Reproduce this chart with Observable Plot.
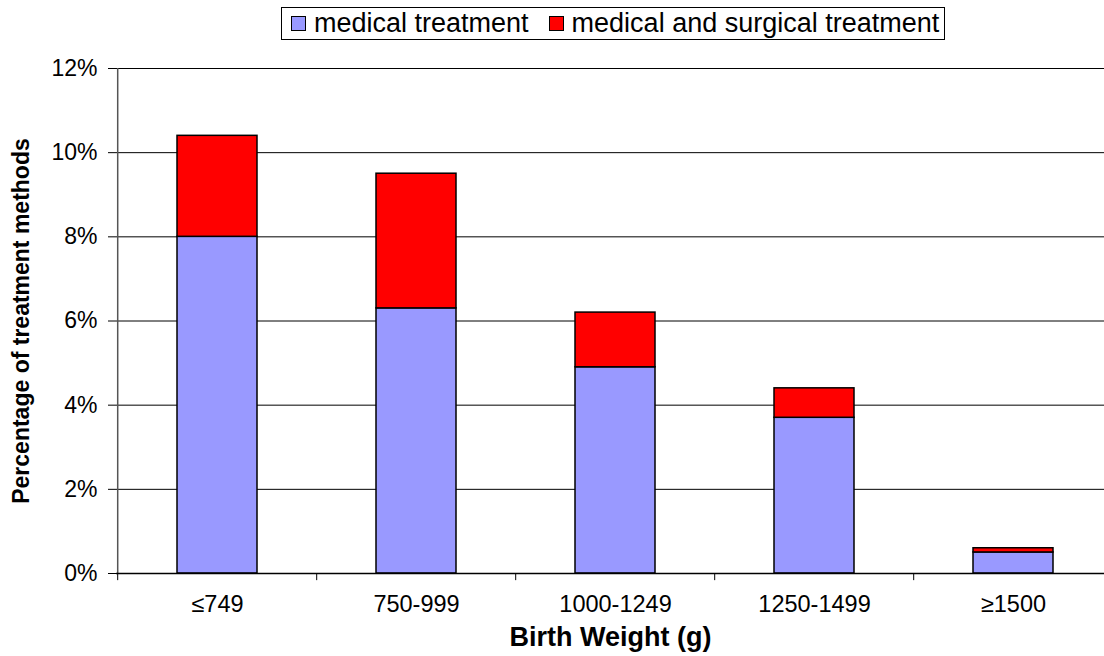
<!DOCTYPE html>
<html>
<head>
<meta charset="utf-8">
<script src="https://cdn.jsdelivr.net/npm/d3@7"></script>
<script src="https://cdn.jsdelivr.net/npm/@observablehq/plot@0.6"></script>
<style>
  html, body { margin: 0; padding: 0; background: #fff; }
  body { width: 1104px; height: 656px; overflow: hidden; font-family: "Liberation Sans", Arial, sans-serif; }
  #legend { position: relative; height: 48px; }
  #legend .box { position: absolute; left: 281px; top: 7px; width: 662px; height: 31px; border: 1px solid #000; display: flex; align-items: center; font-size: 27px; color: #000; white-space: nowrap; }
  #legend .sw { display: inline-block; width: 13px; height: 13px; border: 1px solid #000; margin: 0 8px 0 0; }
  #legend .item { display: flex; align-items: center; }
</style>
</head>
<body>
<div id="legend"></div>
<div id="chart"></div>
<script>
const categories = ["≤749", "750-999", "1000-1249", "1250-1499", "≥1500"];
const seriesNames = ["medical treatment", "medical and surgical treatment"];
const seriesColors = ["#9999FF", "#FF0000"];
const medical = [8.0, 6.3, 4.9, 3.7, 0.5];
const medicalSurgical = [2.4, 3.2, 1.3, 0.7, 0.1];
const yTicks = [0, 2, 4, 6, 8, 10, 12];
const yTitle = "Percentage of treatment methods";
const xTitle = "Birth Weight (g)";

const rows = [];
categories.forEach((c, i) => {
  rows.push({cat: c, series: seriesNames[0], value: medical[i]});
  rows.push({cat: c, series: seriesNames[1], value: medicalSurgical[i]});
});

// legend
const box = document.createElement("div");
box.className = "box";
seriesNames.forEach((s, i) => {
  const item = document.createElement("span");
  item.className = "item";
  item.style.marginLeft = i === 0 ? "9px" : "20px";
  const sw = document.createElement("span");
  sw.className = "sw";
  sw.style.background = seriesColors[i];
  item.appendChild(sw);
  item.appendChild(document.createTextNode(s));
  box.appendChild(item);
});
document.getElementById("legend").appendChild(box);

const xLeft = 116, xRight = 1114;
const step = (xRight - xLeft) / categories.length;
const font = "Liberation Sans, Arial, sans-serif";

const chart = Plot.plot({
  width: 1104,
  height: 608,
  marginTop: 20,
  marginBottom: 83,
  marginLeft: xLeft,
  marginRight: 0,
  style: {fontFamily: font, background: "#fff", color: "#000", overflow: "visible"},
  x: {domain: categories, range: [xLeft, xRight], paddingInner: 0.6, paddingOuter: 0.3, label: null},
  y: {domain: [0, 12], label: null},
  color: {domain: seriesNames, range: seriesColors},
  marks: [
    Plot.gridY(yTicks.filter(d => d > 0), {stroke: "#000", strokeOpacity: 1, strokeWidth: 1}),
    Plot.barY(rows, {x: "cat", y: "value", fill: "series", stroke: "#000", strokeWidth: 1.5, order: seriesNames}),
    Plot.ruleX([categories[0]], {x: d => d, dx: -step / 2, y1: 0, y2: 12, stroke: "#555", strokeWidth: 1.5}),
    Plot.ruleY([0], {stroke: "#000", strokeWidth: 1.5}),
    Plot.ruleX(categories, {x: d => d, dx: -step / 2, y1: 0, y2: -0.17, stroke: "#000", strokeWidth: 1}),
    Plot.axisY({ticks: yTicks, tickFormat: d => d + "%", tickSize: 8, tickPadding: 11, fontSize: 23, label: null, stroke: "#000"}),
    Plot.axisX({tickSize: 0, tickPadding: 22, fontSize: 23.5, label: null}),
    Plot.text([yTitle], {frameAnchor: "left", textAnchor: "middle", rotate: -90, dx: -95, fontSize: 23, fontWeight: "bold", fill: "#000"}),
    Plot.text([xTitle], {frameAnchor: "bottom", dy: 72, fontSize: 27, fontWeight: "bold", fill: "#000"})
  ]
});
document.getElementById("chart").appendChild(chart);
</script>
</body>
</html>
